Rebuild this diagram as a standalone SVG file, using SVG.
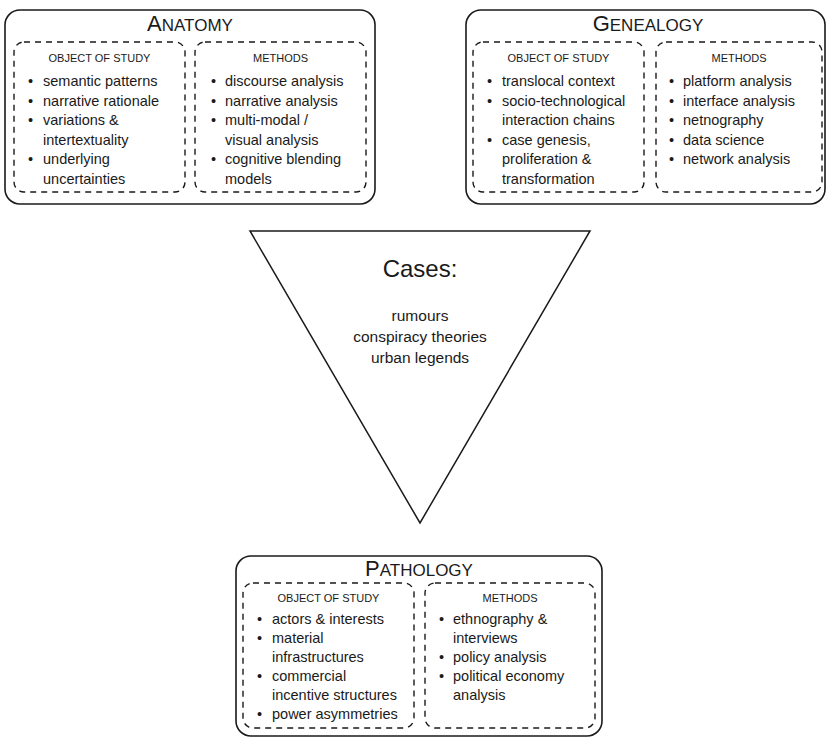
<svg xmlns="http://www.w3.org/2000/svg" width="827" height="741" viewBox="0 0 827 741">
<style>
text{font-family:"Liberation Sans",Arial,sans-serif;fill:#1a1a1a}
.outer{fill:none;stroke:#1a1a1a;stroke-width:1.6}
.dash{fill:none;stroke:#1a1a1a;stroke-width:1.4;stroke-dasharray:6 5}
.title{font-size:17px}
.cap{font-size:22px}
.hdr{font-size:11px;text-anchor:middle}
.b{font-size:14.5px}
.cases{font-size:15.5px;text-anchor:middle}
</style>
<rect width="827" height="741" fill="#fff"/>
<g id="anatomy">
<rect class="outer" x="5" y="10" width="370" height="194" rx="15"/>
<text x="190" y="31" text-anchor="middle"><tspan class="cap">A</tspan><tspan class="title">NATOMY</tspan></text>
<rect class="dash" x="14" y="42" width="171" height="150" rx="10"/>
<rect class="dash" x="195" y="42" width="171" height="150" rx="10"/>
<text class="hdr" x="99.5" y="62">OBJECT OF STUDY</text>
<text class="b" x="28" y="86">•</text><text class="b" x="43" y="86">semantic patterns</text>
<text class="b" x="28" y="105.5">•</text><text class="b" x="43" y="105.5">narrative rationale</text>
<text class="b" x="28" y="125">•</text><text class="b" x="43" y="125">variations &amp;</text>
<text class="b" x="43" y="144.5">intertextuality</text>
<text class="b" x="28" y="164">•</text><text class="b" x="43" y="164">underlying</text>
<text class="b" x="43" y="183.5">uncertainties</text>
<text class="hdr" x="280.5" y="62">METHODS</text>
<text class="b" x="211" y="86">•</text><text class="b" x="225" y="86">discourse analysis</text>
<text class="b" x="211" y="105.5">•</text><text class="b" x="225" y="105.5">narrative analysis</text>
<text class="b" x="211" y="125">•</text><text class="b" x="225" y="125">multi-modal /</text>
<text class="b" x="225" y="144.5">visual analysis</text>
<text class="b" x="211" y="164">•</text><text class="b" x="225" y="164">cognitive blending</text>
<text class="b" x="225" y="183.5">models</text>
</g>
<g id="genealogy">
<rect class="outer" x="466" y="10" width="359" height="194" rx="15"/>
<text x="648" y="31" text-anchor="middle"><tspan class="cap">G</tspan><tspan class="title">ENEALOGY</tspan></text>
<rect class="dash" x="473" y="42" width="171" height="150" rx="10"/>
<rect class="dash" x="656" y="42" width="166" height="150" rx="10"/>
<text class="hdr" x="558.5" y="62">OBJECT OF STUDY</text>
<text class="b" x="487" y="86">•</text><text class="b" x="502" y="86">translocal context</text>
<text class="b" x="487" y="105.5">•</text><text class="b" x="502" y="105.5">socio-technological</text>
<text class="b" x="502" y="125">interaction chains</text>
<text class="b" x="487" y="144.5">•</text><text class="b" x="502" y="144.5">case genesis,</text>
<text class="b" x="502" y="164">proliferation &amp;</text>
<text class="b" x="502" y="183.5">transformation</text>
<text class="hdr" x="739" y="62">METHODS</text>
<text class="b" x="669" y="86">•</text><text class="b" x="683" y="86">platform analysis</text>
<text class="b" x="669" y="105.5">•</text><text class="b" x="683" y="105.5">interface analysis</text>
<text class="b" x="669" y="125">•</text><text class="b" x="683" y="125">netnography</text>
<text class="b" x="669" y="144.5">•</text><text class="b" x="683" y="144.5">data science</text>
<text class="b" x="669" y="164">•</text><text class="b" x="683" y="164">network analysis</text>
</g>
<g id="cases">
<polygon points="250,231 590,231 420,523" fill="none" stroke="#1a1a1a" stroke-width="1.5"/>
<text x="420" y="277" text-anchor="middle" font-size="24">Cases:</text>
<text class="cases" x="420" y="321">rumours</text>
<text class="cases" x="420" y="342">conspiracy theories</text>
<text class="cases" x="420" y="363">urban legends</text>
</g>
<g id="pathology">
<rect class="outer" x="236" y="556" width="366" height="180" rx="15"/>
<text x="419" y="576" text-anchor="middle"><tspan class="cap">P</tspan><tspan class="title">ATHOLOGY</tspan></text>
<rect class="dash" x="243" y="583" width="171" height="145" rx="10"/>
<rect class="dash" x="425" y="583" width="170" height="145" rx="10"/>
<text class="hdr" x="328.5" y="602">OBJECT OF STUDY</text>
<text class="b" x="257" y="624">•</text><text class="b" x="272" y="624">actors &amp; interests</text>
<text class="b" x="257" y="643">•</text><text class="b" x="272" y="643">material</text>
<text class="b" x="272" y="662">infrastructures</text>
<text class="b" x="257" y="681">•</text><text class="b" x="272" y="681">commercial</text>
<text class="b" x="272" y="700">incentive structures</text>
<text class="b" x="257" y="719">•</text><text class="b" x="272" y="719">power asymmetries</text>
<text class="hdr" x="510" y="602">METHODS</text>
<text class="b" x="439" y="624">•</text><text class="b" x="453" y="624">ethnography &amp;</text>
<text class="b" x="453" y="643">interviews</text>
<text class="b" x="439" y="662">•</text><text class="b" x="453" y="662">policy analysis</text>
<text class="b" x="439" y="681">•</text><text class="b" x="453" y="681">political economy</text>
<text class="b" x="453" y="700">analysis</text>
</g>
<g id="connectors"/>
</svg>
